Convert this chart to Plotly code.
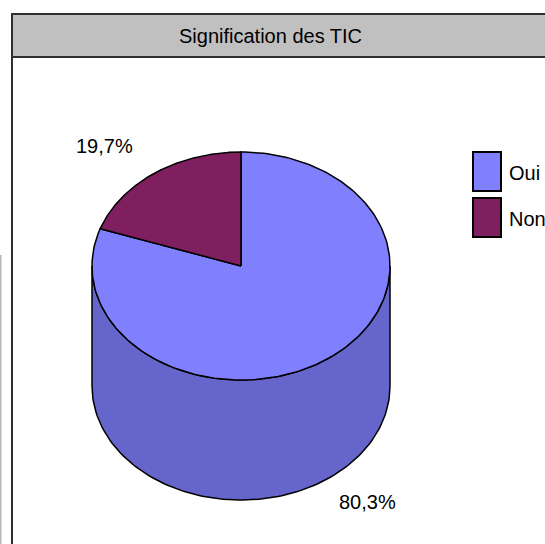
import numpy as np
import plotly.graph_objects as go

# ---- data ----
categories = ["Oui", "Non"]
values = [80.3, 19.7]
value_labels = ["80,3%", "19,7%"]
title_text = "Signification des TIC"

# ---- style ----
top_colors = ["#8080FF", "#7F1F5F"]
side_colors = ["#6565CC", "#5F1747"]
FONT = "Liberation Sans, Arial, sans-serif"

W, H = 545, 544
CX, CY, RX, RY, DEPTH = 241, 266, 149, 114, 120


def pt(theta_deg, dy=0.0):
    t = np.radians(theta_deg)
    return CX + RX * np.sin(t), CY - RY * np.cos(t) + dy


fig = go.Figure()

total = sum(values)
angles = []
start = 0.0
for v in values:
    end = start + 360.0 * v / total
    angles.append((start, end))
    start = end

# side walls (front half only: 90..270 deg clockwise from top)
for (a0, a1), col in zip(angles, side_colors):
    s, e = max(a0, 90.0), min(a1, 270.0)
    if e <= s:
        continue
    th = np.linspace(s, e, 120)
    xt, yt = pt(th)
    xb, yb = pt(th[::-1], DEPTH)
    xs = np.concatenate([xt, xb, xt[:1]])
    ys = np.concatenate([yt, yb, yt[:1]])
    fig.add_trace(go.Scatter(x=xs, y=ys, mode="lines", fill="toself",
                             fillcolor=col, line=dict(color="black", width=1.5),
                             hoverinfo="skip", showlegend=False))

# top faces
for (a0, a1), col in zip(angles, top_colors):
    th = np.linspace(a0, a1, 200)
    xa, ya = pt(th)
    xs = np.concatenate([[CX], xa, [CX]])
    ys = np.concatenate([[CY], ya, [CY]])
    fig.add_trace(go.Scatter(x=xs, y=ys, mode="lines", fill="toself",
                             fillcolor=col, line=dict(color="black", width=1.5),
                             hoverinfo="skip", showlegend=False))

# value labels
label_pos = [(367, 502), (104, 146)]
for txt, (lx, ly) in zip(value_labels, label_pos):
    fig.add_annotation(x=lx, y=ly, text=txt, showarrow=False,
                       font=dict(family=FONT, size=20, color="black"),
                       xanchor="center", yanchor="middle")

shapes = []
# frame and title bar
shapes.append(dict(type="rect", xref="x", yref="y", x0=12, y0=14, x1=560, y1=57,
                   fillcolor="#C0C0C0", line=dict(color="#303030", width=2), layer="below"))
shapes.append(dict(type="line", xref="x", yref="y", x0=12, y0=57, x1=12, y1=560,
                   line=dict(color="#303030", width=2)))
shapes.append(dict(type="line", xref="x", yref="y", x0=0.75, y0=255, x1=0.75, y1=560,
                   line=dict(color="#B8B8B8", width=1.5)))

# legend swatches
leg_y = [(152, 191), (198, 237)]
for (y0, y1), col, name in zip(leg_y, top_colors, categories):
    shapes.append(dict(type="rect", xref="x", yref="y", x0=473, x1=501, y0=y0, y1=y1,
                       fillcolor=col, line=dict(color="black", width=2)))
    fig.add_annotation(x=507, y=(y0 + y1) / 2 + 1, text=name, showarrow=False,
                       font=dict(family=FONT, size=20, color="black"),
                       xanchor="left", yanchor="middle")

fig.add_annotation(x=270, y=36, text=title_text, showarrow=False,
                   font=dict(family=FONT, size=20, color="black"),
                   xanchor="center", yanchor="middle")

fig.update_layout(
    width=W, height=H, autosize=False,
    margin=dict(l=0, r=0, t=0, b=0),
    paper_bgcolor="white", plot_bgcolor="white",
    shapes=shapes,
    xaxis=dict(range=[0, W], visible=False, fixedrange=True),
    yaxis=dict(range=[H, 0], visible=False, fixedrange=True),
    showlegend=False,
)

fig.write_html("out.html", config={"displayModeBar": False},
               post_script="document.body.style.margin='0';document.body.style.overflow='hidden';")
